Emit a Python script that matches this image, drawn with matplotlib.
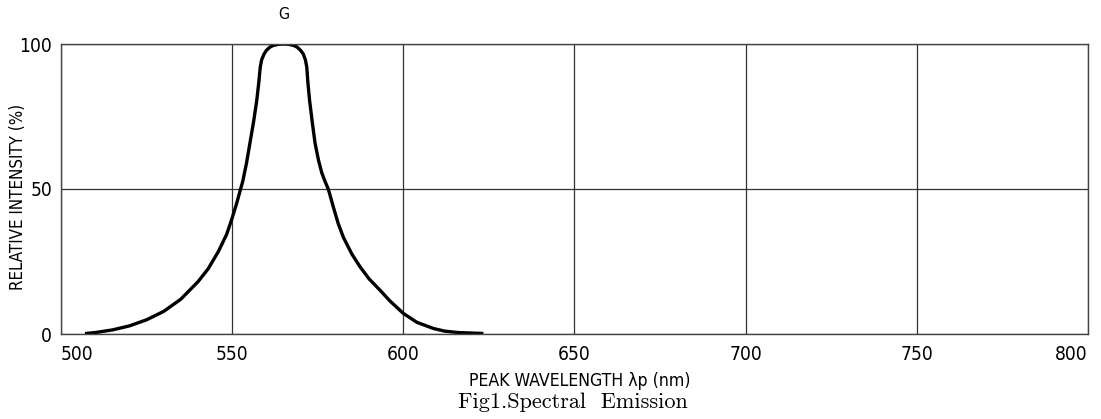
import matplotlib
matplotlib.use("Agg")
import matplotlib.pyplot as plt

# Spectral emission curve
wavelength = [507.5, 510, 515, 520, 525, 530, 535, 540, 543, 546, 548.4, 550, 551.3, 552.3, 553.1,
              554.2, 555.2, 556.3, 557.2, 557.8, 558.2, 558.6, 559.3, 560, 561, 562, 563.5, 565,
              566.5, 568, 569, 570, 570.8, 571.4, 571.8, 572.1, 572.6, 573.4, 574.2, 575.2, 576.2,
              577.1, 578.1, 579.6, 581, 582.5, 585, 587.4, 590, 593.2, 596, 600, 604, 608.8, 612,
              616, 622.9]
intensity = [0.2, 0.5, 1.4, 2.8, 4.9, 7.8, 12.0, 18.0, 22.5, 28.5, 34.4, 40.0, 45.0, 49.3, 52.7,
             59.0, 65.9, 73.5, 80.7, 87.0, 92.0, 94.5, 96.5, 97.8, 98.9, 99.5, 99.9, 100.0,
             99.9, 99.5, 98.9, 97.8, 96.5, 94.5, 92.0, 87.0, 80.7, 73.0, 65.9, 60.0, 55.5,
             52.7, 49.9, 43.6, 38.0, 33.3, 27.5, 23.1, 19.0, 15.1, 11.5, 7.1, 4.0, 1.9, 1.0,
             0.5, 0.2]

x_ticks = [500, 550, 600, 650, 700, 750, 800]
y_ticks = [0, 50, 100]

narrow = dict(family="DejaVu Sans", stretch="condensed")

fig = plt.figure(figsize=(11.01, 4.19), dpi=100)
ax = fig.add_axes([61 / 1101, 85 / 419, 1027 / 1101, 290 / 419])

ax.plot(wavelength, intensity, color="black", linewidth=2.4, solid_joinstyle="round")

ax.set_xlim(500, 800)
ax.set_ylim(0, 100)
ax.set_xticks(x_ticks)
ax.set_yticks(y_ticks)
xl = ax.set_xticklabels([str(t) for t in x_ticks], fontsize=13.8, **narrow)
ax.set_yticklabels([str(t) for t in y_ticks], fontsize=13.8, **narrow)
xl[0].set_ha("left")
xl[-1].set_ha("right")
ax.tick_params(length=0)
ax.tick_params(axis="x", pad=8)
ax.tick_params(axis="y", pad=6.5)

ax.grid(True, color="#333333", linewidth=0.9)
for s in ax.spines.values():
    s.set_color("#444444")
    s.set_linewidth(1.0)

ax.set_ylabel("RELATIVE INTENSITY (%)", fontsize=12.2, **narrow)
ax.yaxis.set_label_coords(-34 / 1027, 0.472)
ax.set_xlabel("PEAK WAVELENGTH \u03bbp (nm)", fontsize=12.7, **narrow)
ax.xaxis.set_label_coords((580 - 61) / 1027, -38 / 290)

ax.text(565, 110.3, "G", ha="center", va="center", fontsize=11.5, **narrow)
fig.text(573 / 1101, 17 / 419, "Fig1.Spectral  Emission",
         ha="center", va="center", fontsize=16, family="cmr10")

plt.savefig("out.png", dpi=100)
